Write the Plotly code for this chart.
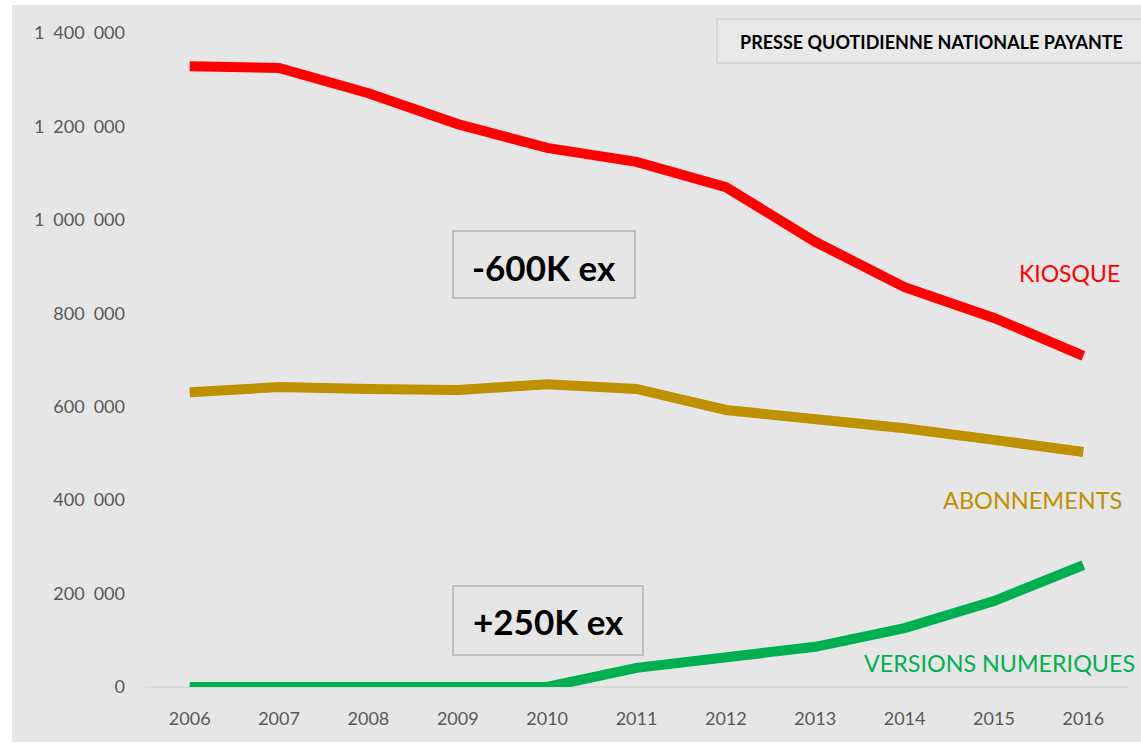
import plotly.graph_objects as go

years = ["2006", "2007", "2008", "2009", "2010", "2011", "2012", "2013", "2014", "2015", "2016"]
kiosque = [1329000, 1325000, 1271000, 1205000, 1154000, 1124000, 1070000, 953000, 856000, 790000, 709000]
abonnements = [631000, 642000, 638000, 636000, 648000, 638000, 593000, 574000, 554000, 529000, 503000]
numeriques = [0, 0, 0, 0, 0, 41000, 62000, 86000, 126000, 184000, 261000]

SP = "\u2002"
y_tickvals = [0, 200000, 400000, 600000, 800000, 1000000, 1200000, 1400000]
y_ticktext = ["0", "200" + SP + "000", "400" + SP + "000", "600" + SP + "000", "800" + SP + "000",
              "1" + SP + "000" + SP + "000", "1" + SP + "200" + SP + "000", "1" + SP + "400" + SP + "000"]

RED = "#ff0000"
GOLD = "#bf9000"
GREEN = "#00b050"
FONT = "Lato"

fig = go.Figure()
for vals, col, name in [(numeriques, GREEN, "VERSIONS NUMERIQUES"),
                        (abonnements, GOLD, "ABONNEMENTS"),
                        (kiosque, RED, "KIOSQUE")]:
    fig.add_trace(go.Scatter(x=years, y=vals, mode="lines", name=name,
                             line=dict(color=col, width=10),
                             hoverinfo="x+y"))

W, H = 1141, 745
L, R, T, B = 145, 13, 33, 58
pw, ph = W - L - R, H - T - B

def px(x):
    return (x - L) / pw

def py(y):
    return (H - B - y) / ph

shapes = [
    dict(type="rect", xref="paper", yref="paper", x0=px(12), x1=px(1150), y0=py(742), y1=py(5),
         fillcolor="#e6e6e6", line=dict(width=0), layer="below"),
    dict(type="rect", xref="paper", yref="paper", x0=px(717), x1=px(1160), y0=py(63), y1=py(19),
         fillcolor="#e8e8e8", line=dict(color="#cfcfcf", width=1.5), layer="above"),
    dict(type="rect", xref="paper", yref="paper", x0=px(453), x1=px(635), y0=py(298), y1=py(231),
         fillcolor="rgba(0,0,0,0)", line=dict(color="#b3b3b3", width=1.5), layer="above"),
    dict(type="rect", xref="paper", yref="paper", x0=px(453), x1=px(643), y0=py(655), y1=py(586),
         fillcolor="rgba(0,0,0,0)", line=dict(color="#b3b3b3", width=1.5), layer="above"),
]

def ann(text, x, y, size, color, xanchor="center"):
    return dict(text=text, x=px(x), y=py(y), xref="paper", yref="paper",
                xanchor=xanchor, yanchor="middle", showarrow=False,
                font=dict(family=FONT, size=size, color=color))

annotations = [
    ann("<b>PRESSE QUOTIDIENNE NATIONALE PAYANTE</b>", 931, 42, 18, "#000000"),
    ann("<b>-600K ex</b>", 544, 267, 35, "#000000"),
    ann("<b>+250K ex</b>", 548, 621, 35, "#000000"),
    ann("KIOSQUE", 1122, 273, 23, RED, "right"),
    ann("ABONNEMENTS", 1124, 500, 23.5, GOLD, "right"),
    ann("VERSIONS NUMERIQUES", 862, 663, 23.3, GREEN, "left"),
]

fig.update_layout(
    width=W, height=H,
    margin=dict(l=L, r=R, t=T, b=B, pad=0),
    paper_bgcolor="#ffffff",
    plot_bgcolor="rgba(0,0,0,0)",
    showlegend=False,
    shapes=shapes,
    annotations=annotations,
    font=dict(family=FONT, size=18, color="#595959"),
    xaxis=dict(type="category", range=[-0.5, 10.5], showgrid=False, zeroline=False,
               showline=False, ticks="", ticklabelstandoff=19,
               tickfont=dict(family=FONT, size=18, color="#595959")),
    yaxis=dict(range=[0, 1400000], tickvals=y_tickvals, ticktext=y_ticktext,
               showgrid=False, zeroline=True, zerolinecolor="#d9d9d9", zerolinewidth=2,
               showline=False, ticks="", ticklabelstandoff=19,
               tickfont=dict(family=FONT, size=18, color="#595959")),
)

fig.write_html("out.html", config={"displayModeBar": False},
               post_script="document.body.style.margin='0';document.body.style.overflow='hidden';")
